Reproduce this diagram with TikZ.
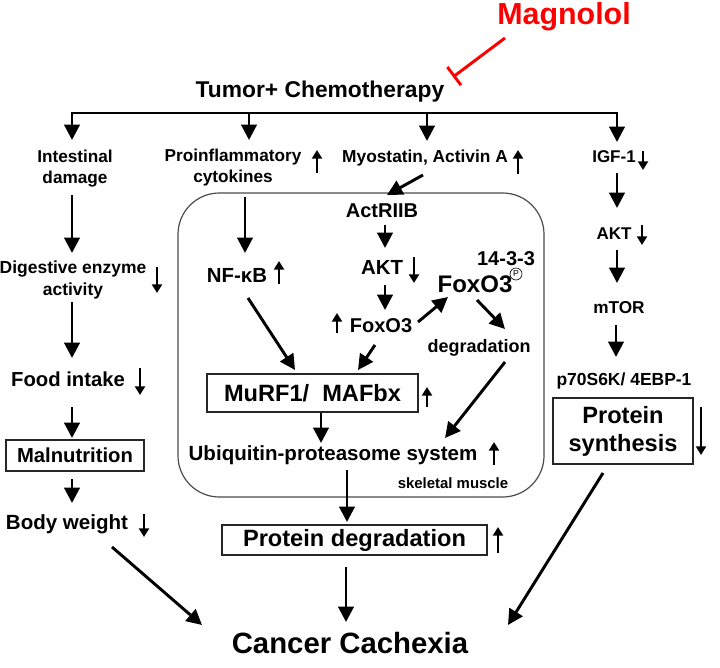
\documentclass[tikz,border=0pt]{standalone}
\usepackage{fontspec}
\setmainfont{Liberation Sans}
\usetikzlibrary{arrows.meta,calc}
\begin{document}
\begin{tikzpicture}[x=0.75pt,y=-0.75pt,
  fs/.style n args={2}{font=\bfseries\fontsize{#1}{#2}\selectfont},
  lbl/.style={inner sep=0pt, outer sep=0pt, text=black},
  arr/.style={line width=2.2pt, -{Triangle[length=11.5pt,width=11.5pt]}, black},
  ind/.style={line width=1.7pt, -{Triangle[length=6.5pt,width=7.5pt]}, black},
  boxed/.style={draw=black!85, line width=1.1pt, inner sep=0pt},
  inh/.style={red, line width=2.2pt, -{Bar[width=17pt]}},
  region/.style={draw=black!70, line width=0.9pt, rounded corners=31pt, inner sep=0pt},
]
\useasboundingbox (0,0) rectangle (720,667);

% skeletal muscle frame
\node[region, minimum width=274.5pt, minimum height=228pt] (muscle) at (361,345) {};

% labels
\node[lbl, text=red, fs={22.8}{27}, anchor=base] (mag) at (564,25) {Magnolol};
\node[lbl, fs={17.1}{20}, anchor=base] (tumor) at (320,98) {Tumor+ Chemotherapy};
\node[lbl, fs={12.9}{15.75}, align=center, anchor=north] (intest) at (75,150) {Intestinal\\damage};
\node[lbl, fs={12.9}{15.75}, align=center, anchor=north] (pro) at (233,149.5) {Proinflammatory\\cytokines};
\node[lbl, fs={13}{15.6}, anchor=base] (myo) at (425,162) {Myostatin, Activin A};
\node[lbl, fs={12.75}{15.3}, anchor=base] (igf) at (614,162) {IGF-1};
\node[lbl, fs={13.1}{16.5}, align=center, anchor=north] (digest) at (73,260.5) {Digestive enzyme\\activity};
\node[lbl, fs={15.2}{18}, anchor=base] (food) at (68,386) {Food intake};
\node[boxed, fs={15.2}{18}, minimum width=103.5pt, minimum height=23.25pt] (maln) at (75,455.5) {Malnutrition};
\node[lbl, fs={15.4}{18}, anchor=base] (body) at (67,529) {Body weight};
\node[lbl, fs={15.3}{18}, anchor=base] (nfkb) at (237,282) {NF-κB};
\node[lbl, fs={15}{18}, anchor=base] (act) at (382,217) {ActRIIB};
\node[lbl, fs={15.3}{18}, anchor=base] (akt1) at (382,274) {AKT};
\node[lbl, fs={15}{18}, anchor=base] (fox1) at (381,332) {FoxO3};
\node[lbl, fs={15}{18}, anchor=base] (f1433) at (506,265) {14-3-3};
\node[lbl, fs={18}{21}, anchor=base] (foxp) at (475,292) {FoxO3};
\node[circle, draw, line width=0.5pt, minimum size=9pt, inner sep=0pt, font=\fontsize{6.5}{6.5}\selectfont] (pc) at (516,274) {P};
\node[lbl, fs={13.5}{16}, anchor=base] (degr) at (479,352) {degradation};
\node[boxed, fs={17.7}{21}, minimum width=158.25pt, minimum height=28.5pt] (murf) at (312.5,393) {MuRF1/\ \ MAFbx};
\node[lbl, fs={15.4}{18}, anchor=base] (ubi) at (333,460) {Ubiquitin-proteasome system};
\node[lbl, fs={11.2}{13}, anchor=base] (skel) at (453,488) {skeletal muscle};
\node[boxed, fs={17.7}{21}, minimum width=198.75pt, minimum height=22.5pt] (pdeg) at (354.5,540) {Protein degradation};
\node[lbl, fs={22}{26}, anchor=base] (cc) at (350,653) {Cancer Cachexia};
\node[lbl, fs={12.75}{15.3}, anchor=base] (akt2) at (614,239) {AKT};
\node[lbl, fs={12.9}{15.5}, anchor=base] (mtor) at (619,313) {mTOR};
\node[lbl, fs={13.1}{15.7}, anchor=base] (p70) at (624,385) {p70S6K/ 4EBP-1};
\node[boxed, fs={17.7}{21}, align=center, minimum width=105pt, minimum height=49.5pt] (psyn) at (623,431) {Protein\\synthesis};

% top distribution bar
\coordinate (d1) at (72,113);
\coordinate (d2) at (249,113);
\coordinate (d3) at (427,113);
\coordinate (d4) at (617,113);
\draw[line width=2.2pt, line join=miter, {Triangle[length=11.5pt,width=11.5pt]}-{Triangle[length=11.5pt,width=11.5pt]}]
  ($(intest.north)+(-3,-10)$) -- (d1) -- (d4) -- ($(igf.base)+(3,-20)$);
\draw[arr] (d2) -- ($(pro.north)+(16,-9.5)$);
\draw[arr] (d3) -- ($(myo.base)+(2,-21)$);

% inhibition
\draw[inh] ($(mag.base)+(-59,13)$) -- ($(tumor.base)+(133,-21)$);

% left column
\draw[arr] ($(intest.north)+(-3,45)$) -- ($(digest.north)+(-1,-7.5)$);
\draw[arr] ($(digest.north)+(-1,41.5)$) -- ($(food.base)+(4,-28)$);
\draw[arr] ($(food.base)+(4,21)$) -- ($(maln.center)+(-3,-17.5)$);
\draw[arr] ($(maln.center)+(-3,23.5)$) -- ($(body.base)+(5,-26)$);
\draw[arr] ($(body.base)+(45,18)$) -- ($(cc.base)+(-148,-28)$);

% middle
\draw[arr] ($(pro.north)+(12,47.5)$) -- ($(nfkb.base)+(8,-29)$);
\draw[arr] ($(nfkb.base)+(11,16)$) -- ($(murf.center)+(-17.5,-23)$);
\draw[arr] ($(myo.base)+(-2,13)$) -- ($(act.base)+(5,-22)$);
\draw[arr] ($(act.base)+(3,8)$) -- ($(akt1.base)+(3,-26)$);
\draw[arr] ($(akt1.base)+(3,11)$) -- ($(fox1.base)+(4,-22)$);
\draw[arr] ($(fox1.base)+(37,-10)$) -- ($(foxp.base)+(-27,5)$);
\draw[arr] ($(foxp.base)+(2,8)$) -- ($(degr.base)+(26,-23)$);
\draw[arr] ($(fox1.base)+(-6,13)$) -- ($(murf.center)+(45.5,-23)$);
\draw[arr] ($(degr.base)+(26,10)$) -- ($(ubi.base)+(112,-22)$);
\draw[arr] ($(murf.center)+(8.5,20)$) -- ($(ubi.base)+(-12,-17)$);
\draw[arr] ($(ubi.base)+(14,10)$) -- ($(pdeg.center)+(-7.5,-18)$);
\draw[arr] ($(pdeg.center)+(-8.5,27)$) -- ($(cc.base)+(-4,-31)$);

% right column
\draw[arr] ($(igf.base)+(3,11)$) -- ($(akt2.base)+(3,-31)$);
\draw[arr] ($(akt2.base)+(3,11)$) -- ($(mtor.base)+(-2,-30)$);
\draw[arr] ($(mtor.base)+(-3,12)$) -- ($(p70.base)+(-8,-28)$);
\draw[arr] ($(psyn.center)+(-20,42)$) -- ($(cc.base)+(158,-28)$);

% up / down indicators
\draw[ind] (317,173) -- (317,150);
\draw[ind] (518,174) -- (518,150);
\draw[ind] (643,151) -- (643,170);
\draw[ind] (157,267) -- (157,293);
\draw[ind] (140,368) -- (140,395);
\draw[ind] (144,514) -- (144,537);
\draw[ind] (279,284) -- (279,261);
\draw[ind] (414,257) -- (414,283);
\draw[ind] (337,333) -- (337,313);
\draw[ind] (427,407) -- (427,387);
\draw[ind] (494,465) -- (494,442);
\draw[ind] (498,553) -- (498,527);
\draw[ind] (642,225) -- (642,245);
\draw[ind] (701,407) -- (701,455);
\end{tikzpicture}
\end{document}
